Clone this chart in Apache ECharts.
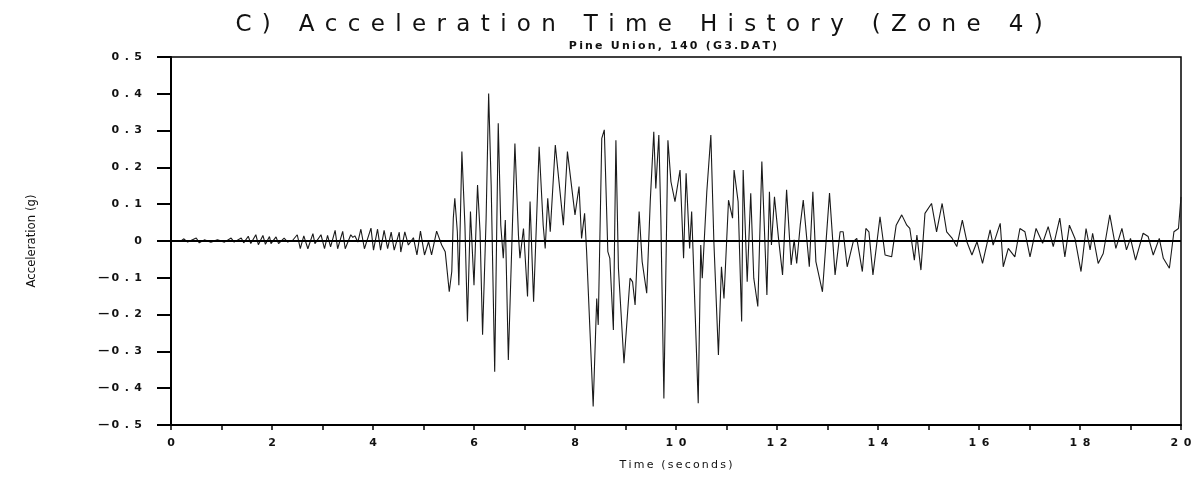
<!DOCTYPE html>
<html>
<head>
<meta charset="utf-8">
<title>Acceleration Time History (Zone 4)</title>
<script src="https://cdn.jsdelivr.net/npm/echarts@6/dist/echarts.min.js"></script>
<style>
  html, body { margin: 0; padding: 0; background: #fff; }
  #chart { width: 1194px; height: 484px; }
</style>
</head>
<body>
<div id="chart"></div>
<script>
// [time (s), acceleration (g)], peak by peak
const preEvent = [
  [0, 0], [0.20, 0], [0.25, 0.006], [0.33, -0.003], [0.50, 0.008], [0.56, -0.005],
  [0.66, 0.003], [0.79, -0.003], [0.92, 0.003], [1.06, -0.003], [1.19, 0.008], [1.25, -0.003],
  [1.39, 0.008], [1.44, -0.005], [1.53, 0.013], [1.58, -0.007], [1.68, 0.017], [1.73, -0.010],
  [1.82, 0.015], [1.87, -0.009], [1.95, 0.012], [1.98, -0.007], [2.08, 0.011], [2.13, -0.007],
  [2.24, 0.008], [2.31, -0.003], [2.41, 0.002], [2.50, 0.017], [2.56, -0.021], [2.63, 0.014],
  [2.71, -0.021], [2.81, 0.020], [2.85, -0.007], [2.97, 0.017], [3.04, -0.021], [3.10, 0.015],
  [3.16, -0.016], [3.25, 0.029], [3.30, -0.021], [3.40, 0.026], [3.45, -0.021], [3.56, 0.017],
  [3.60, 0.010], [3.64, 0.014], [3.70, -0.003], [3.76, 0.032], [3.83, -0.021], [3.96, 0.035],
  [4.01, -0.025], [4.09, 0.032], [4.15, -0.025], [4.22, 0.029], [4.29, -0.021], [4.36, 0.024],
  [4.42, -0.025], [4.52, 0.024], [4.55, -0.030]
]

const strongMotion = [
  [4.63, 0.025], [4.70, -0.011], [4.80, 0.009], [4.87, -0.038], [4.94, 0.027], [5.02, -0.038],
  [5.10, -0.002], [5.16, -0.038], [5.26, 0.027], [5.36, -0.011], [5.43, -0.029], [5.51, -0.138],
  [5.56, -0.083], [5.59, 0.062], [5.62, 0.116], [5.67, 0.025], [5.70, -0.120], [5.76, 0.243],
  [5.82, 0.043], [5.87, -0.219], [5.93, 0.080], [6.00, -0.120], [6.07, 0.152], [6.12, 0.025],
  [6.17, -0.255], [6.24, 0.062], [6.29, 0.401], [6.34, 0.152], [6.41, -0.355], [6.48, 0.320],
  [6.53, 0.043], [6.58, -0.047], [6.62, 0.057], [6.68, -0.323], [6.81, 0.265], [6.88, 0.016],
  [6.91, -0.047], [6.98, 0.034], [7.06, -0.151], [7.11, 0.107], [7.18, -0.165], [7.24, 0.062],
  [7.29, 0.256], [7.37, 0.043], [7.41, -0.020], [7.46, 0.116], [7.51, 0.025], [7.61, 0.261],
  [7.77, 0.043], [7.85, 0.243], [8.00, 0.071], [8.08, 0.148], [8.13, 0.007], [8.19, 0.075],
  [8.23, -0.029], [8.36, -0.450], [8.43, -0.156], [8.46, -0.228], [8.53, 0.279], [8.58, 0.302],
  [8.65, -0.029], [8.69, -0.047], [8.76, -0.242], [8.81, 0.274], [8.86, -0.074], [8.97, -0.332],
  [9.09, -0.101], [9.14, -0.111], [9.19, -0.174], [9.27, 0.080], [9.33, -0.056], [9.42, -0.142],
  [9.49, 0.107], [9.56, 0.297], [9.60, 0.143], [9.66, 0.288], [9.70, 0.062], [9.76, -0.428],
  [9.84, 0.274], [9.90, 0.161], [9.98, 0.107], [10.08, 0.193], [10.15, -0.047], [10.20, 0.184],
  [10.27, -0.020], [10.31, 0.080], [10.34, -0.038], [10.44, -0.441], [10.49, -0.011], [10.52, -0.101],
  [10.61, 0.134], [10.69, 0.288]
]

const decay = [
  [10.75, -0.002], [10.84, -0.310], [10.90, -0.070], [10.95, -0.156], [11.04, 0.111], [11.12, 0.062],
  [11.15, 0.193], [11.23, 0.107], [11.30, -0.219], [11.33, 0.193], [11.41, -0.111], [11.48, 0.130],
  [11.54, -0.101], [11.62, -0.178], [11.70, 0.216], [11.80, -0.147], [11.85, 0.134], [11.89, -0.011],
  [11.95, 0.120], [12.03, 0.007], [12.11, -0.092], [12.19, 0.139], [12.28, -0.065], [12.34, 0.003],
  [12.39, -0.061], [12.46, 0.043], [12.52, 0.111], [12.64, -0.070], [12.71, 0.134], [12.77, -0.056],
  [12.90, -0.138], [13.04, 0.130], [13.15, -0.092], [13.25, 0.025], [13.31, 0.025], [13.39, -0.070],
  [13.51, -0.002], [13.58, 0.007], [13.69, -0.083], [13.76, 0.034]
]

const coda = [
  [13.82, 0.025], [13.90, -0.092], [14.04, 0.066], [14.14, -0.038], [14.27, -0.043], [14.36, 0.043],
  [14.47, 0.071], [14.57, 0.043], [14.63, 0.034], [14.72, -0.052], [14.77, 0.016], [14.85, -0.079],
  [14.93, 0.075], [15.06, 0.102], [15.16, 0.025], [15.27, 0.102], [15.36, 0.025], [15.47, 0.007],
  [15.56, -0.015], [15.67, 0.057], [15.76, -0.002], [15.86, -0.038], [15.96, -0.002], [16.07, -0.061],
  [16.22, 0.030], [16.28, -0.011], [16.42, 0.048], [16.48, -0.070], [16.58, -0.020], [16.71, -0.043],
  [16.81, 0.034], [16.91, 0.025], [17.01, -0.043], [17.13, 0.034], [17.26, -0.006], [17.37, 0.039],
  [17.47, -0.015], [17.60, 0.062], [17.70, -0.043], [17.79, 0.043], [17.90, 0.007], [18.02, -0.083],
  [18.12, 0.034], [18.20, -0.024], [18.25, 0.021], [18.36, -0.061], [18.46, -0.034], [18.59, 0.071],
  [18.71, -0.020], [18.83, 0.034], [18.92, -0.024], [19.00, 0.007], [19.10, -0.052], [19.25, 0.021],
  [19.35, 0.012], [19.45, -0.038], [19.57, 0.007], [19.65, -0.047], [19.77, -0.074], [19.86, 0.025],
  [19.95, 0.034], [20.00, 0.120]
]

const record = preEvent.concat(strongMotion, decay, coda)

// old plotter font is very wide, fake it with spacing between glyphs
const spaced = (s, gap) => s.split('').join(gap)
const EN = '\u2002'
const THIN = '\u2009'
const WIDE = '\u2005\u2009'

const chart = echarts.init(document.getElementById('chart'))

const option = {
  animation: false,
  backgroundColor: '#fff',
  title: [{
    text: spaced('C) Acceleration Time History (Zone 4)', WIDE),
    left: 634,
    top: 9,
    textAlign: 'center',
    textStyle: { fontFamily: 'DejaVu Sans', fontSize: 23, fontWeight: 'normal', color: '#111' }
  }, {
    text: spaced('Pine Union, 140 (G3.DAT)', THIN),
    left: 668,
    top: 36,
    textAlign: 'center',
    textStyle: { fontFamily: 'DejaVu Sans', fontSize: 11, fontWeight: 'bold', color: '#111' }
  }],
  grid: {
    left: 171, right: 13, top: 57, bottom: 59,
    show: true, borderColor: '#000', borderWidth: 1.5,
    outerBoundsMode: 'none'
  },
  xAxis: {
    type: 'value',
    min: 0, max: 20, interval: 2,
    name: spaced('Time (seconds)', THIN),
    nameLocation: 'middle',
    nameGap: 35,
    nameTextStyle: { fontFamily: 'DejaVu Sans', fontSize: 11, color: '#111' },
    axisLine: { onZero: false, lineStyle: { color: '#000', width: 2 } },
    axisTick: { show: true, inside: false, length: 5, lineStyle: { color: '#000', width: 1.5 } },
    minorTick: { show: true, splitNumber: 2, length: 5, lineStyle: { color: '#000', width: 1.5 } },
    splitLine: { show: false },
    axisLabel: {
      margin: 13,
      fontFamily: 'DejaVu Sans', fontSize: 11, fontWeight: 'bold', color: '#111',
      formatter: v => spaced(String(v), EN)
    }
  },
  yAxis: {
    type: 'value',
    min: -0.5, max: 0.5, interval: 0.1,
    name: 'Acceleration (g)',
    nameLocation: 'middle',
    nameGap: 133,
    nameTextStyle: { fontFamily: "'DejaVu Sans Condensed', 'Roboto Condensed', 'Liberation Sans', sans-serif", fontSize: 13, color: '#111' },
    axisLine: { show: true, onZero: false, lineStyle: { color: '#000', width: 2 } },
    axisTick: { show: true, inside: false, length: 14, lineStyle: { color: '#000', width: 2 } },
    splitLine: { show: false },
    axisLabel: {
      margin: 29,
      fontFamily: 'DejaVu Sans', fontSize: 11, fontWeight: 'bold', color: '#111',
      formatter: v => {
        if (Math.abs(v) < 1e-9) return '0'
        const txt = spaced(Math.abs(v).toFixed(1), EN)
        return v < 0 ? '\u2014' + THIN + txt : txt
      }
    }
  },
  series: [{
    type: 'line',
    name: 'Acceleration',
    data: record,
    showSymbol: false,
    symbol: 'none',
    lineStyle: { color: '#1a1a1a', width: 1.1 },
    markLine: {
      silent: true,
      symbol: ['none', 'none'],
      label: { show: false },
      lineStyle: { color: '#000', width: 2, type: 'solid' },
      data: [{ yAxis: 0 }]
    }
  }]
}

chart.setOption(option)
</script>
</body>
</html>
